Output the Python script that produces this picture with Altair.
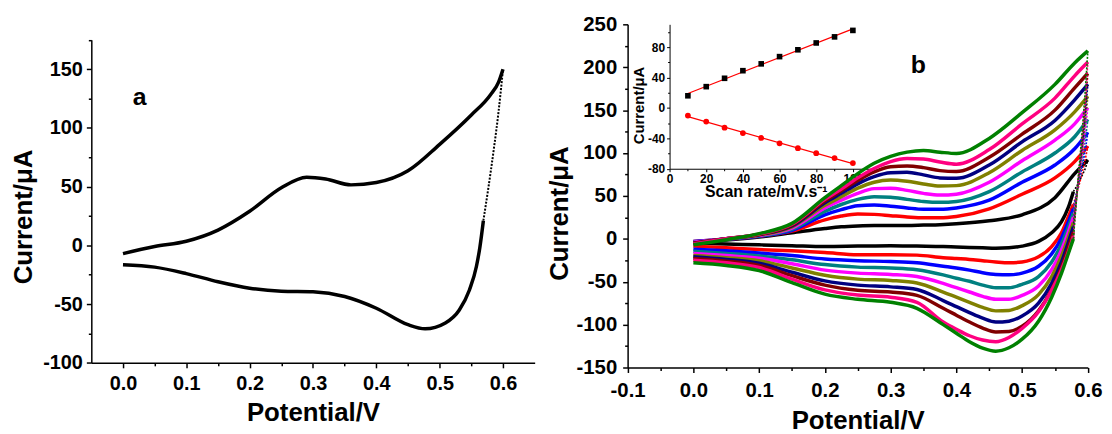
import altair as alt
import pandas as pd

FONT = "Liberation Sans"

# ---------------- panel (a): single CV ----------------
A_UP_V = [0.0, 0.05, 0.1, 0.15, 0.2, 0.25, 0.29, 0.32, 0.36, 0.4, 0.45, 0.5, 0.55, 0.58, 0.593, 0.6]
A_UP_I = [-7, -1, 3.5, 13, 29, 49, 58, 56.5, 51.5, 53.5, 63.5, 86, 111, 128, 139, 150]
A_RET_V = [0.6, 0.597, 0.593, 0.585, 0.569]
A_RET_I = [150, 134, 114, 80, 21]
A_LOW_V = [0.569, 0.5635, 0.558, 0.547, 0.531, 0.509, 0.477, 0.45, 0.4, 0.35, 0.3, 0.25, 0.2, 0.15, 0.1, 0.05, 0.0]
A_LOW_I = [21, -1.5, -18, -38, -55, -66, -71, -67.5, -53.5, -43.5, -39.5, -39, -36.5, -31, -24, -18.5, -16.5]

# ---------------- panel (b): CVs at 10 scan rates ----------------
B_RATES = ["10", "20", "30", "40", "50", "60", "70", "80", "90", "100"]
B_COLORS = ["#000000", "#FF0000", "#0000FF", "#008080", "#FF00FF",
            "#808000", "#000080", "#800000", "#FF0080", "#008000"]

B_UP_V = [0, 0.05, 0.1, 0.15, 0.2, 0.225, 0.25, 0.275, 0.3, 0.325, 0.35, 0.375, 0.4, 0.45, 0.5, 0.55, 0.58, 0.6]
B_UP_10 = [-4, -1.5, 2, 7, 12, 14, 15, 15.5, 15.5, 15.5, 16, 16.5, 17.5, 21, 28, 48, 76, 92]
B_UP_20 = [-3, -0.5, 3, 9, 22, 26.5, 29, 28.5, 27, 25.5, 24.5, 24.5, 26, 35, 52, 71, 90, 108]
B_UP_30 = [-3, -0.5, 3, 10, 28, 34, 38.5, 39.5, 38, 36, 34.5, 34.5, 36, 45, 66, 86, 105, 124]
B_UP_40 = [-4, 0, 3.5, 11, 32, 40, 46, 49, 48.5, 46, 43.5, 42.5, 43.5, 55, 78, 100, 119, 139]
B_UP_50 = [-4, 0, 4, 12.5, 36, 45, 53, 58.5, 59, 56.5, 53, 51, 52, 66, 91, 115, 134, 153]
B_UP_60 = [-5, 0, 4.5, 14, 39, 49, 59, 66, 68.5, 67, 64, 61.5, 62, 77, 103, 127, 148, 166]
B_UP_70 = [-5, 0, 5, 15, 42, 53, 64, 72.5, 77, 77.5, 74.5, 71, 70.5, 86, 113, 138, 162, 180]
B_UP_80 = [-5, 0, 5, 16, 44, 56, 68, 78, 84, 85, 83, 79.5, 78.5, 95, 122, 150, 176, 193]
B_UP_90 = [-6, 0, 5.5, 17, 46, 58, 71, 82, 90, 93.5, 93, 89.5, 87, 104, 134, 164, 190, 206]
B_UP_100 = [-7, -1, 6, 18, 48, 62, 76, 88, 96, 101, 103, 101, 99.5, 117, 147, 180, 205, 219]

B_RET_V = [0.6, 0.597, 0.592, 0.585, 0.578]
B_RET_10 = [92, 84, 75, 64, 55]
B_RET_20 = [108, 96, 79, 58, 40]
B_RET_30 = [124, 108, 87, 61, 35]
B_RET_40 = [139, 120, 94, 62, 30]
B_RET_50 = [153, 132, 101, 63, 25]
B_RET_60 = [166, 142, 107, 64, 19]
B_RET_70 = [180, 153, 113, 64, 14]
B_RET_80 = [193, 163, 119, 65, 8]
B_RET_90 = [206, 173, 125, 66, 3]
B_RET_100 = [219, 183, 131, 67, 0]

B_LOW_V = [0.578, 0.57, 0.56, 0.545, 0.525, 0.5, 0.48, 0.46, 0.44, 0.42, 0.4, 0.38, 0.34, 0.3, 0.25, 0.2, 0.15, 0.1, 0.05, 0.0]
B_LOW_10 = [55, 36, 20, 7, -3, -8.5, -10.5, -11, -10.5, -10, -9.5, -9, -8.5, -8, -8.5, -9, -8, -7, -6, -5]
B_LOW_20 = [40, 25, 7, -9, -21, -27, -28, -27, -25.5, -24, -23, -22, -19, -18.5, -18.5, -16, -14, -12.5, -10.5, -8.5]
B_LOW_30 = [35, 19, 1, -17.5, -32, -40, -42, -41.5, -39.5, -36.5, -34, -32, -28, -26.5, -25.5, -23.5, -19.5, -16.5, -14, -12]
B_LOW_40 = [30, 13, -6, -27, -44, -53, -57, -57, -54, -49.5, -46, -42, -36, -34, -33, -30, -24.5, -20, -17, -14.5]
B_LOW_50 = [25, 7, -13, -36, -55, -66, -70.5, -70.5, -67, -62, -57, -52, -44, -41.5, -40, -36.5, -29, -22.5, -19.5, -17]
B_LOW_60 = [19, 1, -20, -44, -65, -78, -83.5, -84, -80, -74, -68, -62, -51.5, -48.5, -47, -42.5, -34, -25.5, -22, -19.5]
B_LOW_70 = [14, -5, -27, -52, -75, -90, -96, -97, -92.5, -86, -79, -72, -59, -56, -54, -49, -39, -28.5, -24, -21]
B_LOW_80 = [8, -11, -33, -59, -84, -102, -108, -108.5, -104, -97, -89, -81, -66, -62, -60, -54, -43, -31, -26, -23]
B_LOW_90 = [3, -16, -36, -60, -85, -104.5, -115, -120, -118, -113, -105.5, -97, -74, -68, -65.5, -59.5, -47, -33.5, -28, -25]
B_LOW_100 = [0, -18, -40, -68, -96, -117, -127, -131, -127.5, -120, -110, -100, -81, -74, -70.5, -64.5, -51, -37, -31, -28]

# ---------------- inset: peak current vs scan rate ----------------
SCAN = [10, 20, 30, 40, 50, 60, 70, 80, 90, 100]
IPA = [16, 28, 39, 49, 58, 67.5, 76.5, 85.5, 93.5, 102]
IPC = [-10, -18, -26, -33, -39.5, -46.5, -53, -59.5, -66, -72.5]

# ---------------- tick values ----------------
A_XTICKS = [0.0, 0.05, 0.1, 0.15, 0.2, 0.25, 0.3, 0.35, 0.4, 0.45, 0.5, 0.55, 0.6]
A_YTICKS = [-100, -75, -50, -25, 0, 25, 50, 75, 100, 125, 150, 175]
B_XTICKS = [-0.1, -0.05, 0.0, 0.05, 0.1, 0.15, 0.2, 0.25, 0.3, 0.35, 0.4, 0.45, 0.5, 0.55, 0.6]
B_YTICKS = [-150, -125, -100, -75, -50, -25, 0, 25, 50, 75, 100, 125, 150, 175, 200, 225, 250]
IN_XTICKS = [0, 10, 20, 30, 40, 50, 60, 70, 80, 90, 100]
IN_YTICKS = [-80, -60, -40, -20, 0, 20, 40, 60, 80, 100]

B_UP = [B_UP_10, B_UP_20, B_UP_30, B_UP_40, B_UP_50, B_UP_60, B_UP_70, B_UP_80, B_UP_90, B_UP_100]
B_RET = [B_RET_10, B_RET_20, B_RET_30, B_RET_40, B_RET_50, B_RET_60, B_RET_70, B_RET_80, B_RET_90, B_RET_100]
B_LOW = [B_LOW_10, B_LOW_20, B_LOW_30, B_LOW_40, B_LOW_50, B_LOW_60, B_LOW_70, B_LOW_80, B_LOW_90, B_LOW_100]

# ---------------- data tables ----------------
a_main = pd.DataFrame({
    "V": A_UP_V + A_LOW_V,
    "I": A_UP_I + A_LOW_I,
    "seg": ["up"] * len(A_UP_V) + ["low"] * len(A_LOW_V),
})
a_ret = pd.DataFrame({"V": A_RET_V, "I": A_RET_I})
a_lab = pd.DataFrame({"V": [0.0264], "I": [119.6], "txt": ["a"]})

rows, rrows = [], []
for k, rate in enumerate(B_RATES):
    for v, i in zip(B_UP_V, B_UP[k]):
        rows.append({"curve": rate, "key": rate + "u", "V": v, "I": i})
    for v, i in zip(B_LOW_V, B_LOW[k]):
        rows.append({"curve": rate, "key": rate + "l", "V": v, "I": i})
    for v, i in zip(B_RET_V, B_RET[k]):
        rrows.append({"curve": rate, "key": rate + "r", "V": v, "I": i})
b_main = pd.DataFrame(rows)
b_ret = pd.DataFrame(rrows)
b_lab = pd.DataFrame({"V": [0.342], "I": [193], "txt": ["b"]})

inset_df = pd.DataFrame({
    "scan": SCAN + SCAN,
    "cur": IPA + IPC,
    "kind": ["anodic"] * len(SCAN) + ["cathodic"] * len(SCAN),
})

# ---------------- axes ----------------
COMMON = dict(grid=False, domainColor="black", tickColor="black", labelColor="black",
              titleColor="black", labelFont=FONT, titleFont=FONT, labelFontWeight="bold",
              titleFontWeight="bold", labelOverlap=False, labelFlush=False)


def cond(test, minor, major):
    return {"condition": {"test": test, "value": minor}, "value": major}


XMINOR = "abs(round(datum.value*100)) % 10 != 0"
XLABEL = "abs(round(datum.value*100)) % 10 == 0 ? replace(format(datum.value, '.1f'), '\u2212', '-') : ''"

ax_a_x = alt.Axis(orient="bottom", offset=-4.7, values=A_XTICKS, labelExpr=XLABEL,
                  tickSize=cond(XMINOR, 3, 5), tickWidth=1.5, domainWidth=1.5,
                  labelFontSize=20, labelPadding=6, title="Potential/V", titleFontSize=26,
                  titleBaseline="alphabetic", titleAlign="center", titleX=223.5, titleY=57.7, **COMMON)
ax_a_y = alt.Axis(orient="left", offset=0, values=A_YTICKS,
                  labelExpr="datum.value % 50 == 0 ? '' + datum.value : ''",
                  tickSize=cond("datum.value % 50 != 0", 3, 5), tickWidth=1.5, domainWidth=1.5,
                  labelFontSize=20, labelPadding=4, title="Current/\u03bcA", titleFontSize=26,
                  titleBaseline="middle", titleAlign="center", titleX=-68, titleY=193.8, **COMMON)

ax_b_x = alt.Axis(orient="bottom", offset=0, values=B_XTICKS, labelExpr=XLABEL,
                  tickSize=cond(XMINOR, 3, 5), tickWidth=1.5, domainWidth=1.5,
                  labelFontSize=20.5, labelPadding=8, title="Potential/V", titleFontSize=26,
                  titleBaseline="alphabetic", titleAlign="center", titleX=772.7, titleY=61, **COMMON)
ax_b_y = alt.Axis(orient="left", offset=-540.7, values=B_YTICKS,
                  labelExpr="datum.value % 50 == 0 ? '' + datum.value : ''",
                  tickSize=cond("datum.value % 50 != 0", 3, 5), tickWidth=1.5, domainWidth=1.5,
                  labelFontSize=20.5, labelPadding=6, title="Current/\u03bcA", titleFontSize=26,
                  titleBaseline="middle", titleAlign="center", titleX=-68.7, titleY=190.3, **COMMON)

ax_i_x = alt.Axis(orient="bottom", offset=-200.4, values=IN_XTICKS,
                  labelExpr="datum.value % 20 == 0 ? '' + datum.value : ''",
                  tickSize=cond("datum.value % 20 != 0", 2, 3), tickWidth=1, domainWidth=1,
                  labelFontSize=12, labelPadding=1.5, title="Scan rate/mV.s\u207b\u00b9",
                  titleFontSize=16, titleBaseline="alphabetic", titleAlign="center",
                  titleX=680, titleY=28.4, **COMMON)
ax_i_y = alt.Axis(orient="left", offset=-583, values=IN_YTICKS,
                  labelExpr="datum.value % 40 == 0 ? '' + datum.value : ''",
                  tickSize=cond("datum.value % 40 != 0", 2, 3), tickWidth=1, domainWidth=1,
                  labelFontSize=12, labelPadding=2, title="Current/\u03bcA", titleFontSize=15,
                  titleBaseline="middle", titleAlign="center", titleX=-31, titleY=81.3, **COMMON)

# ---------------- scales ----------------
sc_a_x = alt.Scale(domain=[-0.05, 0.65], range=[0, 447], nice=False, zero=False)
sc_a_y = alt.Scale(domain=[-100, 175], range=[341.3, 15.6], nice=False, zero=False)
sc_b_x = alt.Scale(domain=[-0.1, 0.6], range=[540.7, 1004.7], nice=False, zero=False)
sc_b_y = alt.Scale(domain=[-150, 250], range=[346, 0], nice=False, zero=False)
sc_i_x = alt.Scale(domain=[0, 110], range=[583, 786.3], nice=False, zero=False)
sc_i_y = alt.Scale(domain=[-80, 110], range=[145.6, 0], nice=False, zero=False)

ax_ = alt.X("V:Q", scale=sc_a_x, axis=ax_a_x)
ay_ = alt.Y("I:Q", scale=sc_a_y, axis=ax_a_y)
bx_ = alt.X("V:Q", scale=sc_b_x, axis=ax_b_x)
by_ = alt.Y("I:Q", scale=sc_b_y, axis=ax_b_y)
ix_ = alt.X("scan:Q", scale=sc_i_x, axis=ax_i_x)
iy_ = alt.Y("cur:Q", scale=sc_i_y, axis=ax_i_y)

# ---------------- panel a ----------------
a1 = alt.Chart(a_main).mark_line(color="black", strokeWidth=3.5, interpolate="monotone").encode(
    x=ax_, y=ay_, detail="seg:N")
a2 = alt.Chart(a_ret).mark_line(color="black", strokeWidth=2, strokeDash=[2, 1.5],
                                interpolate="monotone").encode(x=ax_, y=ay_)
a3 = alt.Chart(a_lab).mark_text(font=FONT, fontSize=25, fontWeight="bold", color="black",
                                align="center", baseline="alphabetic").encode(x=ax_, y=ay_, text="txt:N")
panel_a = alt.layer(a1, a2, a3)

# ---------------- panel b ----------------
col = alt.Color("curve:N", scale=alt.Scale(domain=B_RATES, range=B_COLORS), legend=None)
b1 = alt.Chart(b_main).mark_line(strokeWidth=3.5, interpolate="monotone").encode(
    x=bx_, y=by_, color=col, detail="key:N")
b2 = alt.Chart(b_ret).mark_line(strokeWidth=1.6, strokeDash=[2, 1.5], interpolate="monotone").encode(
    x=bx_, y=by_, color=col, detail="key:N")
b3 = alt.Chart(b_lab).mark_text(font=FONT, fontSize=25, fontWeight="bold", color="black",
                                align="center", baseline="alphabetic").encode(x=bx_, y=by_, text="txt:N")
panel_b = alt.layer(b1, b2, b3)

# ---------------- inset ----------------
base_i = alt.Chart(inset_df)
i1 = base_i.transform_regression("scan", "cur", groupby=["kind"]).mark_line(
    color="#FF0000", strokeWidth=1.2).encode(x=ix_, y=iy_, detail="kind:N")
i2 = base_i.transform_filter("datum.kind == 'anodic'").mark_point(
    shape="square", filled=True, size=32, color="black", opacity=1).encode(x=ix_, y=iy_)
i3 = base_i.transform_filter("datum.kind == 'cathodic'").mark_circle(
    size=34, color="#FF0000", opacity=1).encode(x=ix_, y=iy_)
inset = alt.layer(i1, i2, i3)

chart = alt.layer(panel_a, panel_b, inset).resolve_scale(
    x="independent", y="independent", color="independent"
).resolve_axis(x="independent", y="independent").properties(
    width=1005, height=346,
    autosize=alt.AutoSizeParams(type="none"),
    padding={"left": 84, "top": 14.7, "right": 16, "bottom": 70},
    background="white",
).configure_view(stroke=None)

chart.save("out.html", embed_options={"renderer": "svg", "actions": False})
